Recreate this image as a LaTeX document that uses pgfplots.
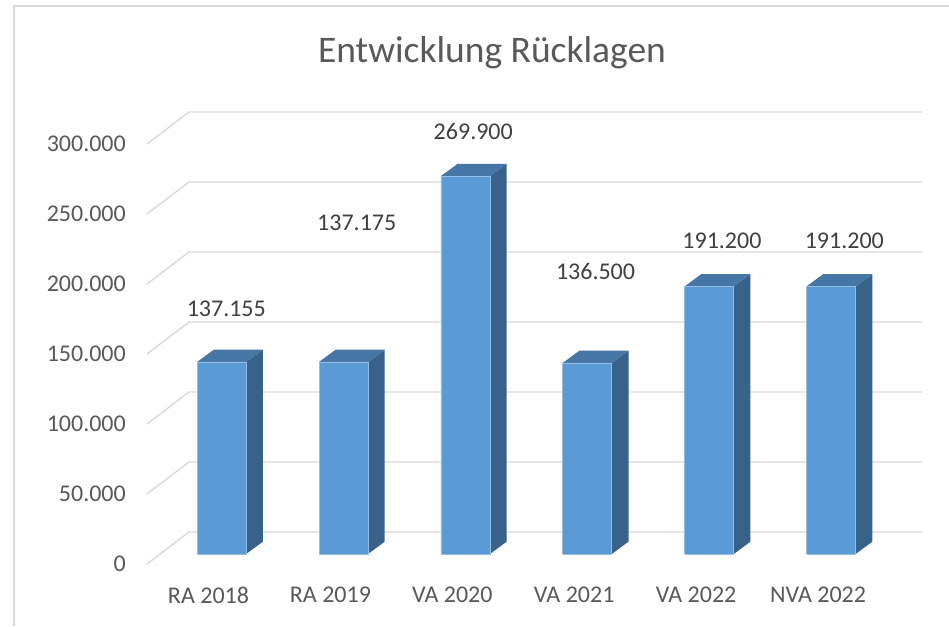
\documentclass[border=0pt]{standalone}
\usepackage{fontspec}
\setmainfont{Carlito}
\usepackage{pgfplots}
\usepackage{pgfplotstable}
\pgfplotsset{compat=1.18}

\definecolor{cfront}{RGB}{91,155,213}
\definecolor{ctop}{RGB}{70,118,166}
\definecolor{cside}{RGB}{56,98,137}
\definecolor{cedge}{RGB}{150,190,228}
\definecolor{gridgray}{RGB}{217,217,217}
\definecolor{tickgray}{RGB}{89,89,89}
\definecolor{labgray}{RGB}{64,64,64}

% data: category index, value, data-label position, label text
\pgfplotstableread{
x v lx ly label
0 137155 0.146 182143 137.155
1 137175 1.216 243571 137.175
2 269900 2.172 309286 269.900
3 136500 3.175 209286 136.500
4 191200 4.212 230714 191.200
5 191200 5.216 230714 191.200
}\datatable

% 3D column geometry (dx, base offset, top flag)
\pgfplotstableread{
dx y0 t
-0.0935 7143 0
0.3085 7143 0
0.3085 7143 1
-0.0935 7143 1
-0.0935 7143 0
}\frontshape
\pgfplotstableread{
dx y0 t
0.3085 7143 0
0.4455 15929 0
0.4455 15929 1
0.3085 7143 1
}\sideshape
\pgfplotstableread{
dx y0 t
-0.0935 7143 1
0.3085 7143 1
0.4455 15929 1
0.0435 15929 1
}\topshape

\begin{document}
\begin{tikzpicture}[x=1pt,y=1pt]
\useasboundingbox (0,0) rectangle (949,626);
\fill[white] (0,0) rectangle (949,626);
% chart frame
\draw[gridgray, line width=1.4pt] (14,0) -- (14,620) -- (949,620);
% title
\node[anchor=base, inner sep=0pt, text=tickgray, font=\fontsize{37.5}{42}\selectfont] at (492,563.3) {Entwicklung Rücklagen};

\begin{axis}[
  at={(147pt,62pt)}, anchor=south west,
  scale only axis,
  width=780.7pt, height=462pt,
  xmin=-0.5045, xmax=5.9,
  ymin=0, ymax=330000,
  clip=false,
  axis line style={draw=none},
  tick style={draw=none},
  xtick={0,1,2,3,4,5},
  xticklabels={RA 2018, RA 2019, VA 2020, VA 2021, VA 2022, NVA 2022},
  ytick={0,50000,100000,150000,200000,250000,300000},
  scaled y ticks=false,
  /pgf/number format/.cd, fixed, 1000 sep={.}, assume math mode=true,
  /pgfplots/.cd,
  tick label style={font=\fontsize{24}{28}\selectfont, text=tickgray},
  xticklabel style={anchor=north, inner sep=0pt, yshift=-23pt},
  yticklabel style={anchor=east, inner sep=0pt, xshift=-21pt},
]
% perspective gridlines (side diagonal + back wall)
\addplot[gridgray, line width=1.4pt] coordinates {(-0.5045,0) (-0.16,22857) (5.853,22857)};
\addplot[gridgray, line width=1.4pt] coordinates {(-0.5045,50000) (-0.16,72857) (5.853,72857)};
\addplot[gridgray, line width=1.4pt] coordinates {(-0.5045,100000) (-0.16,122857) (5.853,122857)};
\addplot[gridgray, line width=1.4pt] coordinates {(-0.5045,150000) (-0.16,172857) (5.853,172857)};
\addplot[gridgray, line width=1.4pt] coordinates {(-0.5045,200000) (-0.16,222857) (5.853,222857)};
\addplot[gridgray, line width=1.4pt] coordinates {(-0.5045,250000) (-0.16,272857) (5.853,272857)};
\addplot[gridgray, line width=1.4pt] coordinates {(-0.5045,300000) (-0.16,322857) (5.853,322857)};

% 3D columns
\pgfplotsinvokeforeach{0,...,5}{
  \pgfplotstablegetelem{#1}{v}\of\datatable
  \let\barval\pgfplotsretval
  \addplot[fill=cside, draw=none] table[x expr=#1+\thisrow{dx}, y expr=\thisrow{y0}+\thisrow{t}*\barval] {\sideshape};
  \addplot[fill=ctop, draw=none] table[x expr=#1+\thisrow{dx}, y expr=\thisrow{y0}+\thisrow{t}*\barval] {\topshape};
  \addplot[fill=cfront, draw=cedge, line width=0.7pt] table[x expr=#1+\thisrow{dx}, y expr=\thisrow{y0}+\thisrow{t}*\barval] {\frontshape};
}

% data labels
\addplot[draw=none, mark=none, nodes near coords, point meta=explicit symbolic,
  nodes near coords style={anchor=center, inner sep=0pt, text=labgray, font=\fontsize{24}{28}\selectfont}]
  table[x=lx, y=ly, meta=label] {\datatable};
\end{axis}
\end{tikzpicture}
\end{document}
